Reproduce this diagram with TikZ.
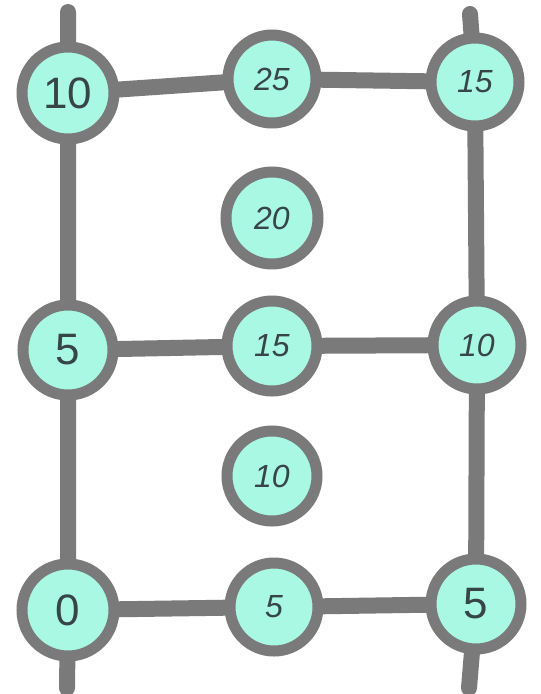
\documentclass[tikz,border=0pt]{standalone}
\usepackage{fontspec}
\setmainfont{Liberation Sans}
\usetikzlibrary{backgrounds}
\definecolor{bead}{RGB}{168,248,228}
\definecolor{rim}{RGB}{122,122,122}
\definecolor{ink}{RGB}{55,70,68}
\tikzset{
  bead/.style={circle,draw=rim,fill=bead,line width=11pt,minimum size=#1,inner sep=0pt,text=ink},
  bead/.default=90pt,
  up/.style={font=\fontsize{44}{44}\selectfont},
  hand/.style={font=\itshape\fontsize{32}{32}\selectfont},
  wire/.style={draw=rim,line width=16pt,line cap=round}
}
\begin{document}
\begin{tikzpicture}[x=1pt,y=-1pt]
\useasboundingbox (0,0) rectangle (541,694);
\node[bead=92pt,up] (a1) at (68,93) {10};
\node[bead=88pt,hand] (b1) at (272,79) {25};
\node[bead=88pt,hand] (c1) at (475,82) {15};
\node[bead=92pt,hand] (b2) at (272,218) {20};
\node[bead=90pt,up] (a3) at (68,350) {5};
\node[bead=90pt,hand] (b3) at (272,346) {15};
\node[bead=88pt,hand] (c3) at (477,345) {10};
\node[bead=90pt,hand] (b4) at (272,476) {10};
\node[bead=92pt,up] (a5) at (68,610) {0};
\node[bead=88pt,hand] (b5) at (274,607) {5};
\node[bead=90pt,up] (c5) at (476,604) {5};
\coordinate (atop) at (68,12);
\coordinate (abot) at (67,688);
\coordinate (ctop) at (470,14);
\coordinate (cbot) at (469,688);
\begin{scope}[on background layer]
\draw[wire] (atop) -- (a1.center) -- (a3.center) -- (a5.center) -- (abot);
\draw[wire] (ctop) -- (c1.center) -- (c3.center) -- (c5.center) -- (cbot);
\draw[wire] (a1) -- (b1) -- (c1);
\draw[wire] (a3) -- (b3) -- (c3);
\draw[wire] (a5) -- (b5) -- (c5);
\end{scope}
\end{tikzpicture}
\end{document}
